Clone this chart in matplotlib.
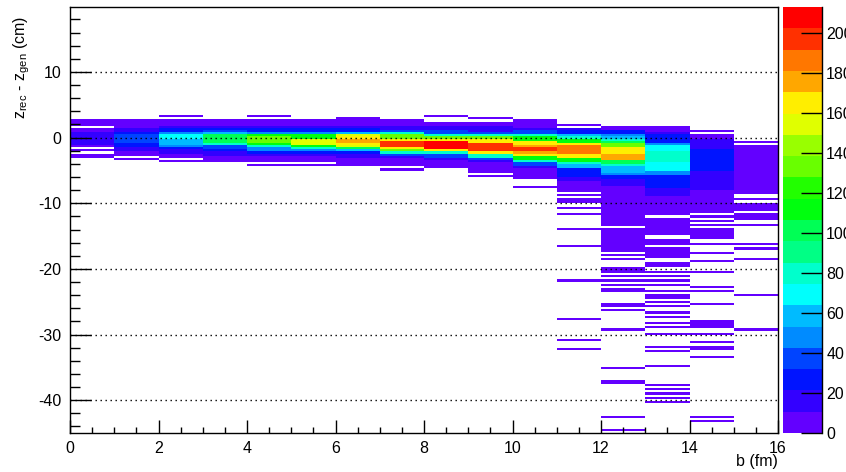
import colorsys
import numpy as np
import matplotlib
matplotlib.use("Agg")
import matplotlib.pyplot as plt
from matplotlib.colors import ListedColormap, BoundaryNorm
from matplotlib.ticker import MultipleLocator, FixedLocator
import matplotlib.colorbar as mcolorbar

plt.rcParams['font.family'] = ['Liberation Sans', 'DejaVu Sans']
plt.rcParams['axes.unicode_minus'] = False

# binning: impact parameter b (fm) on x, z_rec - z_gen (cm) on y
b_edges = np.arange(0, 17, 1)
dz_lo, dz_hi, n_dz = -45.0, 20.0, 200
z_max = 213.0
n_levels = 20

# bands per b-bin: (dz top, dz bottom, entries); later entries overwrite earlier ones,
# entries == 0 punch empty rows back in
col00 = [(2.5, -2.9, 4), (0.8, -1.0, 15), (1.5, 1.5, 0), (-1.7, -1.7, 0), (-2.4, -2.4, 0)]
col01 = [(2.7, -2.6, 4), (1.4, -1.8, 15), (0.7, -1.3, 30), (0.3, -0.8, 40), (-3.2, -3.2, 4)]
col02 = [(3.3, 3.3, 4), (2.6, -2.9, 4), (1.5, -2.2, 15), (1.2, -1.7, 26), (0.6, -1.3, 48),
         (0.3, -0.9, 58), (0.3, -0.1, 69), (-3.5, -3.5, 4)]
col03 = [(2.5, -3.7, 4), (1.7, -2.5, 15), (1.2, -2.0, 26), (0.9, -1.6, 37), (0.7, -1.1, 58),
         (0.5, -0.9, 80), (0.3, -0.7, 106)]
col04 = [(3.3, 3.3, 4), (2.5, -3.5, 4), (1.6, -2.6, 15), (1.2, -2.2, 26), (0.8, -1.8, 48),
         (0.5, -1.4, 75), (0.3, -1.1, 112), (0.0, -0.8, 135), (-4.1, -4.1, 4)]
col05 = [(2.6, -3.6, 4), (1.7, -2.7, 15), (1.2, -2.3, 26), (0.8, -1.9, 48), (0.5, -1.6, 80),
         (0.3, -1.3, 115), (-0.3, -1.1, 150), (-4.1, -4.1, 4)]
col06 = [(2.9, -4.1, 4), (1.7, -2.9, 15), (1.2, -2.4, 30), (0.8, -2.0, 58), (0.5, -1.7, 100),
         (0.2, -1.4, 150), (-0.1, -1.1, 165), (-0.4, -0.8, 180)]
col07 = [(2.7, -4.2, 4), (1.6, -3.0, 15), (1.0, -2.6, 37), (0.6, -2.3, 75), (0.2, -2.0, 130),
         (-0.2, -1.7, 165), (-0.6, -1.4, 192), (-4.8, -4.8, 4)]
col08 = [(3.3, 3.3, 4), (2.4, -4.6, 4), (1.5, -3.4, 20), (1.0, -2.8, 40), (0.4, -2.4, 80),
         (0.0, -2.0, 130), (-0.3, -1.8, 170), (-0.7, -1.6, 207)]
col09 = [(3.1, 3.1, 4), (2.3, -5.1, 4), (1.5, -3.6, 20), (0.8, -3.2, 40), (0.3, -2.8, 75),
         (-0.1, -2.4, 130), (-0.4, -2.1, 170), (-0.9, -1.8, 200), (-5.7, -5.7, 4)]
col10 = [(2.6, -6.3, 4), (1.4, -4.6, 20), (0.9, -4.2, 40), (0.5, -3.6, 75), (0.1, -3.1, 115),
         (-0.5, -2.6, 160), (-1.2, -2.2, 180), (-1.7, -2.0, 200), (-7.6, -7.6, 4)]
col11 = [(2.1, -8.1, 4), (1.7, 1.7, 0), (1.3, -6.5, 15), (0.9, -5.8, 30), (0.4, -4.6, 55),
         (0.1, -4.0, 80), (-0.3, -3.6, 115), (-0.9, -3.0, 160), (-1.4, -2.4, 185),
         (-8.7, -8.7, 4), (-9.3, -9.9, 4), (-10.7, -10.7, 4), (-11.7, -11.7, 4),
         (-14.0, -14.0, 4), (-16.6, -16.6, 4), (-21.9, -21.9, 4), (-27.7, -27.7, 4),
         (-31.0, -31.0, 4), (-32.0, -32.0, 4)]
col12 = [(1.5, -17.1, 4), (-13.5, -13.5, 0), (1.1, -7.1, 15), (1.0, -6.3, 30), (0.3, -5.4, 45),
         (0.1, -5.1, 62), (-0.2, -4.3, 75), (-0.6, -3.9, 105), (-1.0, -3.3, 135),
         (-1.6, -3.1, 165), (-2.5, -3.1, 180),
         (-17.8, -17.8, 4), (-18.6, -18.6, 4), (-19.9, -20.5, 4), (-21.1, -21.1, 4),
         (-21.7, -21.7, 4), (-22.3, -22.3, 4), (-23.2, -23.4, 4), (-25.3, -25.3, 4),
         (-25.7, -25.7, 4), (-26.3, -26.3, 4), (-29.3, -29.3, 4), (-35.1, -35.1, 4),
         (-37.0, -37.0, 4), (-37.4, -37.4, 4), (-42.7, -42.7, 4), (-44.4, -44.4, 4)]
col13 = [(1.8, 1.8, 4), (1.3, -18.3, 4), (0.7, -8.9, 15), (0.4, -7.5, 30), (-1.0, -5.5, 50),
         (-1.4, -4.8, 70), (-2.3, -3.6, 80), (-12.1, -12.1, 0), (-15.0, -15.2, 0),
         (-16.6, -16.6, 0),
         (-19.1, -19.1, 4), (-19.6, -19.6, 4), (-20.6, -20.6, 4), (-21.1, -21.1, 4),
         (-21.7, -21.7, 4), (-22.4, -22.4, 4), (-23.4, -23.4, 4), (-24.0, -24.0, 4),
         (-24.5, -24.5, 4), (-25.0, -25.0, 4), (-25.7, -25.7, 4), (-26.5, -26.5, 4),
         (-27.3, -27.3, 4), (-28.3, -28.3, 4), (-28.8, -28.8, 4), (-29.8, -29.8, 4),
         (-31.7, -31.7, 4), (-32.5, -32.5, 4), (-34.6, -34.6, 4), (-37.6, -37.6, 4),
         (-38.3, -38.3, 4), (-38.9, -38.9, 4), (-39.6, -39.6, 4), (-40.3, -40.3, 4)]
col14 = [(1.0, 1.0, 4), (0.4, -10.9, 4), (-0.3, -7.8, 15), (-1.8, -5.0, 26),
         (-11.5, -11.5, 4), (-12.0, -12.0, 4), (-12.5, -12.5, 4), (-13.2, -13.2, 4),
         (-14.0, -15.3, 4), (-16.1, -16.1, 4), (-17.4, -17.4, 4), (-18.9, -18.9, 4),
         (-20.4, -20.4, 4), (-22.7, -22.7, 4), (-23.3, -23.3, 4), (-25.2, -25.2, 4),
         (-27.8, -27.8, 4), (-28.3, -28.8, 4), (-29.8, -29.8, 4), (-31.3, -31.3, 4),
         (-31.8, -32.1, 4), (-33.5, -33.5, 4), (-42.7, -42.7, 4), (-43.2, -43.2, 4)]
col15 = [(-0.7, -0.7, 4), (-1.2, -8.3, 4), (-9.3, -9.3, 4), (-10.0, -10.0, 4),
         (-10.5, -12.3, 4), (-11.3, -11.3, 0), (-13.2, -13.2, 4), (-16.1, -16.1, 4),
         (-16.8, -16.8, 4), (-18.6, -18.6, 4), (-23.9, -23.9, 4), (-29.3, -29.3, 4)]

columns = [col00, col01, col02, col03, col04, col05, col06, col07,
           col08, col09, col10, col11, col12, col13, col14, col15]


def root_pretty_colors(n_lev, n_pal=50):
    # ROOT "pretty palette" (violet -> red), sampled the way COLZ picks contour colours
    cols = []
    for k in range(n_lev):
        idx = int((k + 0.99) * n_pal / n_lev)
        hue = 280.0 - (idx + 1) * 280.0 / n_pal
        cols.append(colorsys.hls_to_rgb(hue / 360.0, 0.5, 1.0))
    return cols


def dz_bin(y, width):
    return int(np.clip((y - dz_lo) // width, 0, n_dz - 1))


def build_hist():
    width = (dz_hi - dz_lo) / n_dz
    h = np.zeros((len(b_edges) - 1, n_dz))
    for i, bands in enumerate(columns):
        for top, bottom, n in bands:
            h[i, dz_bin(bottom, width):dz_bin(top, width) + 1] = n
    return h


hist = build_hist()
dz_edges = np.linspace(dz_lo, dz_hi, n_dz + 1)
levels = np.linspace(0, z_max, n_levels + 1)
cmap = ListedColormap(root_pretty_colors(n_levels))
norm = BoundaryNorm(levels, cmap.N)

fig = plt.figure(figsize=(8.46, 4.72), dpi=100)
ax = fig.add_axes([70 / 846, 1 - 433 / 472, 708 / 846, 426 / 472])

ax.pcolormesh(b_edges, dz_edges, np.ma.masked_equal(hist, 0).T,
              cmap=cmap, norm=norm, zorder=1)

ax.set_xlim(0, 16)
ax.set_ylim(dz_lo, 19.9)
ax.xaxis.set_major_locator(MultipleLocator(2))
ax.xaxis.set_minor_locator(MultipleLocator(0.5))
ax.yaxis.set_major_locator(FixedLocator([-40, -30, -20, -10, 0, 10]))
ax.yaxis.set_minor_locator(MultipleLocator(2))
ax.tick_params(axis='x', which='major', direction='in', length=9.2, width=1,
               labelsize=11.5, pad=6, top=False)
ax.tick_params(axis='x', which='minor', direction='in', length=4.6, width=1, top=False)
ax.tick_params(axis='y', which='major', direction='in', length=15, width=1,
               labelsize=11.5, pad=6, right=False)
ax.tick_params(axis='y', which='minor', direction='in', length=7.5, width=1, right=False)
for sp in ax.spines.values():
    sp.set_linewidth(1.0)

ax.set_axisbelow(False)
ax.yaxis.grid(True, which='major', linestyle=(0, (1, 2.6)), color='black', linewidth=1.0)

ax.set_xlabel('b (fm)', fontsize=11.5, loc='right')
ax.xaxis.set_label_coords(1.0, -0.05)
ax.set_ylabel(r'$\mathregular{z_{rec}}$ - $\mathregular{z_{gen}}$ (cm)', fontsize=11.5, loc='top')
ax.yaxis.set_label_coords(-0.053, 0.98)

# palette axis on the right
cax = fig.add_axes([783 / 846, 1 - 433 / 472, 39 / 846, 426 / 472])
cb = mcolorbar.ColorbarBase(cax, cmap=cmap, norm=norm, boundaries=levels,
                            orientation='vertical', drawedges=False)
cb.set_ticks(np.arange(0, 201, 20))
cb.outline.set_visible(False)
cax.tick_params(axis='y', which='major', direction='in', length=15, width=1,
                labelsize=11.5, pad=3, right=True, left=False)
cax.tick_params(axis='y', which='minor', length=0)
cax.axvline(1.0, color='black', linewidth=1.0, clip_on=False)

fig.savefig('out.png', dpi=100)
